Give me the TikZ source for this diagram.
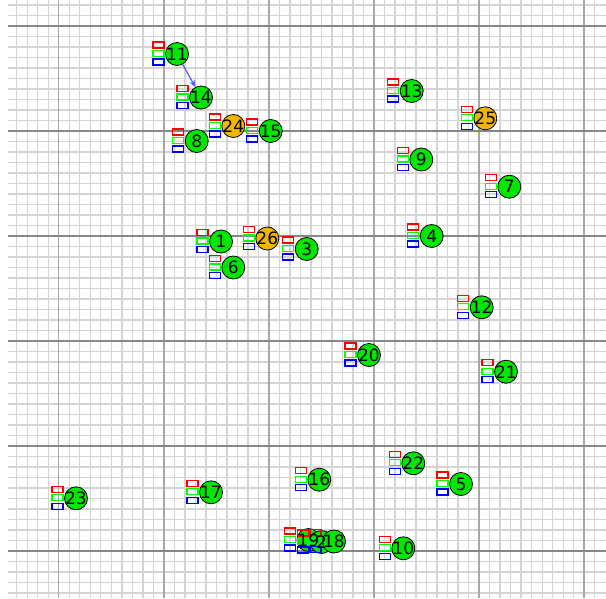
\documentclass[tikz,border=0pt]{standalone}
\usepackage{fontspec}
\setmainfont{DejaVu Sans}
\usetikzlibrary{arrows.meta}
\definecolor{ngreen}{RGB}{0,230,0}
\definecolor{norange}{RGB}{242,182,0}
\definecolor{gridfine}{RGB}{212,212,212}
\definecolor{gridmajh}{RGB}{135,135,135}
\definecolor{gridmajv}{RGB}{168,168,168}
\definecolor{arrowblue}{RGB}{90,90,255}
\tikzset{
  finegrid/.style={draw=gridfine, line width=1.4pt},
  majh/.style={draw=gridmajh, line width=1.5pt},
  majv/.style={draw=gridmajv, line width=1.5pt},
  vertex/.style={circle, draw=black, line width=0.8pt, minimum size=23pt, inner sep=0pt},
  vlabel/.style={inner sep=0pt, font=\fontsize{17}{17}\selectfont},
  tagred/.style={draw=red, line width=1.3pt},
  taggreen/.style={draw=green, line width=1.3pt},
  tagblue/.style={draw=blue, line width=1.3pt},
  link/.style={draw=arrowblue, line width=1.2pt, -{Stealth[length=7pt,width=6pt]}}
}
\newcommand\vertexlist{11/177/54/ngreen, 14/201/97.5/ngreen, 24/233.3/126/norange,
  15/270.7/131/ngreen, 8/196.7/141/ngreen, 13/411.7/91/ngreen, 25/485.3/118.3/norange,
  9/421.3/159.5/ngreen, 7/509.3/186.7/ngreen, 1/221/241.5/ngreen, 26/267.3/238.5/norange,
  3/306.7/249/ngreen, 6/233.3/267.5/ngreen, 4/431.7/236/ngreen, 12/481.7/307.3/ngreen,
  21/506/371.7/ngreen, 20/369/355/ngreen, 22/413.3/463.3/ngreen, 5/461/484/ngreen,
  10/403.3/548.3/ngreen, 23/76/498.3/ngreen, 17/211/492.3/ngreen, 16/319.3/479.7/ngreen,
  19/308.5/540/ngreen, 2/321.5/542/ngreen, 18/334/541.5/ngreen}
\begin{document}
\begin{tikzpicture}[x=1pt,y=-1pt]
\useasboundingbox (0,0) rectangle (606,598);
\fill[white] (0,0) rectangle (606,598);
\begin{scope}
\clip (0,0) rectangle (606,598);
\foreach \k in {0,...,55} \draw[finegrid] ({16.7+10.51*\k},0) -- ({16.7+10.51*\k},598);
\foreach \k in {0,...,56} \draw[finegrid] (8,{5+10.5*\k}) -- (606,{5+10.5*\k});
\foreach \k in {4,14,...,54} \draw[majv] ({16.7+10.51*\k},0) -- ({16.7+10.51*\k},598);
\foreach \k in {2,12,...,52} \draw[majh] (8,{5+10.5*\k}) -- (606,{5+10.5*\k});
\end{scope}
% circles
\foreach \n/\x/\y/\c in \vertexlist
  \node[vertex, fill=\c] (n\n) at (\x,\y) {};
% tag rectangles
\foreach \n/\x/\y/\c in \vertexlist {
  \draw[tagred] (\x-24,\y-12) rectangle (\x-13,\y-6);
  \draw[taggreen] (\x-24,\y-3.5) rectangle (\x-13,\y+2.5);
  \draw[tagblue] (\x-24,\y+5) rectangle (\x-13,\y+11);
}
% labels
\foreach \n/\x/\y/\c in \vertexlist
  \node[vlabel] (t\n) at (n\n) {\n};
\draw[link] (n11) -- (n14);
\end{tikzpicture}
\end{document}
